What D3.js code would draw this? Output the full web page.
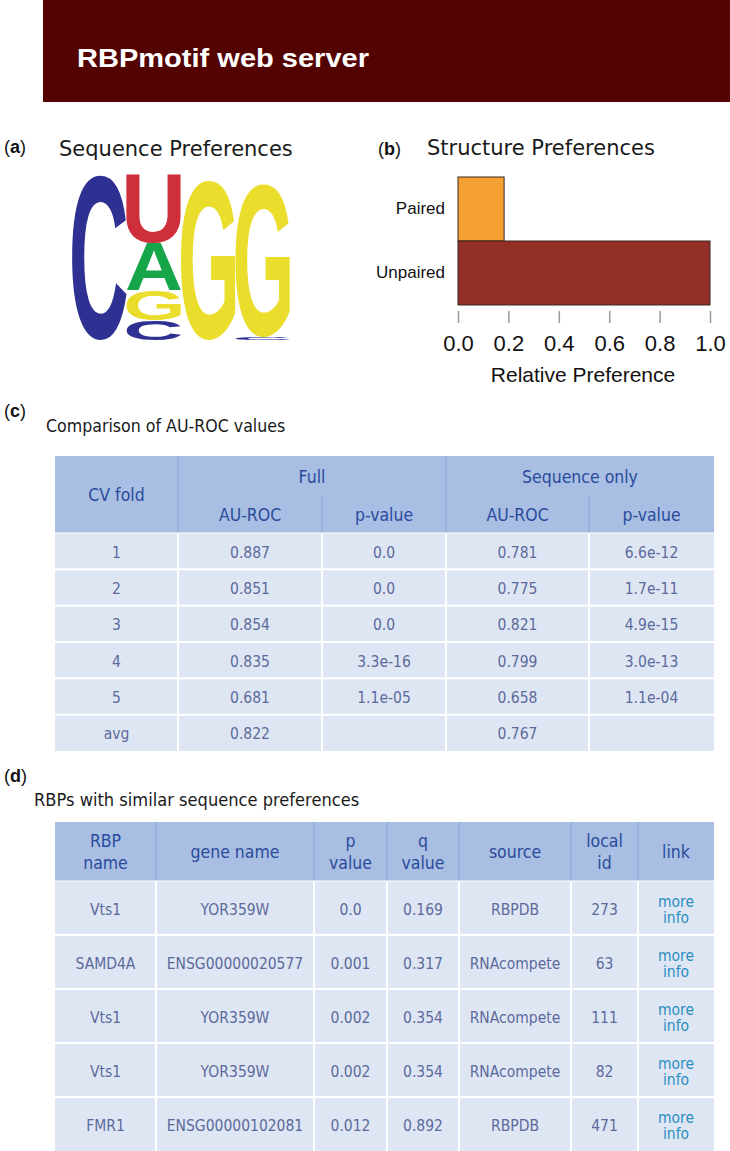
<!DOCTYPE html>
<html><head><meta charset="utf-8">
<script src="https://cdn.jsdelivr.net/npm/d3@7"></script>
<style>body{margin:0;background:#fff}svg{display:block}</style>
</head><body><svg id="c" width="730" height="1151"></svg>
<script>
// ---------- data ----------
const pageTitle = "RBPmotif web server";
const logoLetters = [["C"], ["C", "G", "A", "U"], ["G"], ["C", "G"]];
const logoBits = [[1.99], [0.24, 0.36, 0.57, 0.83], [1.94], [0.03, 1.85]];
const structCategories = ["Paired", "Unpaired"];
const structValues = [0.183, 1.0];
const structTicks = [0, 0.2, 0.4, 0.6, 0.8, 1.0];

const cvFolds = ["1", "2", "3", "4", "5", "avg"];
const fullAuroc = ["0.887", "0.851", "0.854", "0.835", "0.681", "0.822"];
const fullP = ["0.0", "0.0", "0.0", "3.3e-16", "1.1e-05", ""];
const seqAuroc = ["0.781", "0.775", "0.821", "0.799", "0.658", "0.767"];
const seqP = ["6.6e-12", "1.7e-11", "4.9e-15", "3.0e-13", "1.1e-04", ""];

const rbpNames = ["Vts1", "SAMD4A", "Vts1", "Vts1", "FMR1"];
const geneNames = ["YOR359W", "ENSG00000020577", "YOR359W", "YOR359W", "ENSG00000102081"];
const pValues = ["0.0", "0.001", "0.002", "0.002", "0.012"];
const qValues = ["0.169", "0.317", "0.354", "0.354", "0.892"];
const sources = ["RBPDB", "RNAcompete", "RNAcompete", "RNAcompete", "RBPDB"];
const localIds = ["273", "63", "111", "82", "471"];
const rbpHeaders = [["RBP", "name"], ["gene name"], ["p", "value"], ["q", "value"], ["source"], ["local", "id"], ["link"]];

// ---------- styles ----------
const logoColor = {C: "#2e3192", U: "#cf2f3b", A: "#17a54a", G: "#ebdd2b"};
const hdrBg = "#a8bee3", bodyBg = "#dfe6f3", hdrLine = "#8ea7d4";
const hdrText = "#2b4b9b", bodyText = "#5b6a9c", linkText = "#2a8fbf";

const svg = d3.select("#c");

// ---------- header band ----------
svg.append("rect").attr("x", 43).attr("y", 0).attr("width", 687).attr("height", 102).attr("fill", "#540303");
svg.append("text").attr("x", 77).attr("y", 67).attr("fill", "#fff")
  .attr("font-family", "'Liberation Sans', Arial, sans-serif").attr("font-weight", "bold")
  .attr("font-size", 26).attr("textLength", 292).attr("lengthAdjust", "spacingAndGlyphs").text(pageTitle);

function panelLabel(x, y, letter) {
  const t = svg.append("text").attr("x", x).attr("y", y).attr("font-family", "'Liberation Sans', Arial, sans-serif")
    .attr("font-size", 18).attr("fill", "#111");
  t.append("tspan").text("(");
  t.append("tspan").attr("font-weight", "bold").text(letter);
  t.append("tspan").text(")");
}
function bigTitle(x, y, str) {
  svg.append("text").attr("x", x).attr("y", y).attr("font-family", "'DejaVu Sans', sans-serif")
    .attr("font-size", 21).attr("fill", "#1a1a1a").text(str);
}
function ctext(g, x, y, str, size, fill, anchor) {
  return g.append("text").attr("transform", `translate(${x},${y}) scale(0.9,1)`)
    .attr("text-anchor", anchor || "middle").attr("font-family", "'DejaVu Sans', sans-serif")
    .attr("font-size", size).attr("fill", fill).text(str);
}

// ---------- (a) sequence logo ----------
panelLabel(4, 153, "a");
bigTitle(59, 156, "Sequence Preferences");
const logoX = d3.scaleBand().domain(d3.range(logoLetters.length)).range([72, 290]).padding(0);
const logoY = d3.scaleLinear().domain([0, 2]).range([340, 175]);
const ctx = document.createElement("canvas").getContext("2d");
ctx.font = "bold 200px 'Liberation Sans'";
const gLogo = svg.append("g");
logoLetters.forEach((letters, i) => {
  let base = 0;
  letters.forEach((L, j) => {
    const h = logoBits[i][j];
    const yTop = logoY(base + h), yBot = logoY(base);
    base += h;
    const m = ctx.measureText(L);
    const inkW = m.actualBoundingBoxLeft + m.actualBoundingBoxRight;
    const inkH = m.actualBoundingBoxAscent + m.actualBoundingBoxDescent;
    const sx = logoX.bandwidth() / inkW, sy = (yBot - yTop) / inkH;
    gLogo.append("text").attr("font-family", "'Liberation Sans', Arial, sans-serif").attr("font-weight", "bold")
      .attr("font-size", 200).attr("fill", logoColor[L])
      .attr("transform", `translate(${logoX(i)},${yTop}) scale(${sx},${sy}) translate(${m.actualBoundingBoxLeft},${m.actualBoundingBoxAscent})`)
      .text(L);
  });
});

// ---------- (b) structure bar chart ----------
panelLabel(378, 155, "b");
bigTitle(427, 155, "Structure Preferences");
const bx = d3.scaleLinear().domain([0, 1]).range([458, 710]);
const by = d3.scaleBand().domain(structCategories).range([177, 305]).padding(0);
const barColor = d3.scaleOrdinal().domain(structCategories).range(["#f4a032", "#922f27"]);
svg.append("g").selectAll("rect").data(structCategories).join("rect")
  .attr("x", bx(0)).attr("y", d => by(d)).attr("width", (d, i) => bx(structValues[i]) - bx(0))
  .attr("height", by.bandwidth()).attr("fill", d => barColor(d)).attr("stroke", "#3b2620").attr("stroke-width", 1);
const xAx = svg.append("g").attr("transform", "translate(0,311)")
  .call(d3.axisBottom(bx).tickValues(structTicks).tickFormat(d3.format(".1f")).tickSize(12).tickPadding(12));
xAx.select(".domain").remove();
xAx.selectAll(".tick line").attr("stroke", "#9a9a9a").attr("stroke-width", 1.5);
xAx.selectAll(".tick text").attr("font-family", "'Liberation Sans', Arial, sans-serif").attr("font-size", 22).attr("fill", "#111");
const yAx = svg.append("g").attr("transform", `translate(${bx(0)},0)`)
  .call(d3.axisLeft(by).tickSize(0).tickPadding(13));
yAx.select(".domain").remove();
yAx.selectAll(".tick text").attr("font-family", "'Liberation Sans', Arial, sans-serif").attr("font-size", 17).attr("fill", "#111");
svg.append("text").attr("x", 583).attr("y", 382).attr("text-anchor", "middle")
  .attr("font-family", "'Liberation Sans', Arial, sans-serif").attr("font-size", 21).attr("fill", "#111").text("Relative Preference");

// ---------- (c) AU-ROC table ----------
panelLabel(4, 417, "c");
ctext(svg, 46, 432, "Comparison of AU-ROC values", 17.6, "#1a1a1a", "start");
const cEdges = [55, 178, 322, 446, 589, 714];
const cTop = 456, cMid = 495, cHdrBot = 533;
const cRows = d3.scaleBand().domain(cvFolds).range([533, 751]);
const gC = svg.append("g");
gC.append("rect").attr("x", cEdges[0]).attr("y", cTop).attr("width", cEdges[5] - cEdges[0]).attr("height", cHdrBot - cTop).attr("fill", hdrBg);
gC.append("rect").attr("x", cEdges[0]).attr("y", cHdrBot).attr("width", cEdges[5] - cEdges[0]).attr("height", cRows.range()[1] - cHdrBot).attr("fill", bodyBg);
[[cEdges[1], cTop], [cEdges[3], cTop], [cEdges[2], cMid], [cEdges[4], cMid]].forEach(([x, y0]) =>
  gC.append("line").attr("x1", x).attr("x2", x).attr("y1", y0).attr("y2", cHdrBot).attr("stroke", hdrLine).attr("stroke-width", 1.2));
cEdges.slice(1, 5).forEach(x => gC.append("line").attr("x1", x).attr("x2", x).attr("y1", cHdrBot).attr("y2", cRows.range()[1]).attr("stroke", "#fff").attr("stroke-width", 2));
cvFolds.forEach(d => gC.append("line").attr("x1", cEdges[0]).attr("x2", cEdges[5]).attr("y1", cRows(d)).attr("y2", cRows(d)).attr("stroke", "#fff").attr("stroke-width", d === cvFolds[0] ? 1.2 : 2));
const mid = (a, b) => (a + b) / 2;
ctext(gC, mid(cEdges[0], cEdges[1]), 501, "CV fold", 17.5, hdrText);
ctext(gC, mid(cEdges[1], cEdges[3]), 483, "Full", 17.5, hdrText);
ctext(gC, mid(cEdges[3], cEdges[5]), 483, "Sequence only", 17.5, hdrText);
["AU-ROC", "p-value", "AU-ROC", "p-value"].forEach((s, k) => ctext(gC, mid(cEdges[k + 1], cEdges[k + 2]), 521, s, 17.5, hdrText));
const cCols = [cvFolds, fullAuroc, fullP, seqAuroc, seqP];
cCols.forEach((col, k) => col.forEach((v, r) =>
  ctext(gC, mid(cEdges[k], cEdges[k + 1]), cRows(cvFolds[r]) + cRows.bandwidth() / 2 + 6.5, v, 15.5, bodyText)));

// ---------- (d) similar RBPs table ----------
panelLabel(4, 782, "d");
ctext(svg, 34, 806, "RBPs with similar sequence preferences", 18.1, "#1a1a1a", "start");
const dEdges = [55, 156, 314, 387, 459, 571, 638, 714];
const dTop = 822, dHdrBot = 881;
const dRows = d3.scaleBand().domain(d3.range(rbpNames.length)).range([881, 1151]);
const gD = svg.append("g");
gD.append("rect").attr("x", dEdges[0]).attr("y", dTop).attr("width", dEdges[7] - dEdges[0]).attr("height", dHdrBot - dTop).attr("fill", hdrBg);
gD.append("rect").attr("x", dEdges[0]).attr("y", dHdrBot).attr("width", dEdges[7] - dEdges[0]).attr("height", 1151 - dHdrBot).attr("fill", bodyBg);
dEdges.slice(1, 7).forEach(x => {
  gD.append("line").attr("x1", x).attr("x2", x).attr("y1", dTop).attr("y2", dHdrBot).attr("stroke", hdrLine).attr("stroke-width", 1.2);
  gD.append("line").attr("x1", x).attr("x2", x).attr("y1", dHdrBot).attr("y2", 1151).attr("stroke", "#fff").attr("stroke-width", 2);
});
d3.range(rbpNames.length).forEach(r => gD.append("line").attr("x1", dEdges[0]).attr("x2", dEdges[7]).attr("y1", dRows(r)).attr("y2", dRows(r)).attr("stroke", "#fff").attr("stroke-width", r === 0 ? 1.2 : 2));
rbpHeaders.forEach((lines, k) => {
  const cx = mid(dEdges[k], dEdges[k + 1]);
  if (lines.length === 1) ctext(gD, cx, 858, lines[0], 17.5, hdrText);
  else { ctext(gD, cx, 847, lines[0], 17.5, hdrText); ctext(gD, cx, 869, lines[1], 17.5, hdrText); }
});
const dCols = [rbpNames, geneNames, pValues, qValues, sources, localIds];
dCols.forEach((col, k) => col.forEach((v, r) =>
  ctext(gD, mid(dEdges[k], dEdges[k + 1]), dRows(r) + dRows.bandwidth() / 2 + 6.5, v, 15.5, bodyText)));
rbpNames.forEach((v, r) => {
  const cx = mid(dEdges[6], dEdges[7]), cy = dRows(r) + dRows.bandwidth() / 2;
  ctext(gD, cx, cy - 1, "more", 15.5, linkText);
  ctext(gD, cx, cy + 15, "info", 15.5, linkText);
});
</script></body></html>
